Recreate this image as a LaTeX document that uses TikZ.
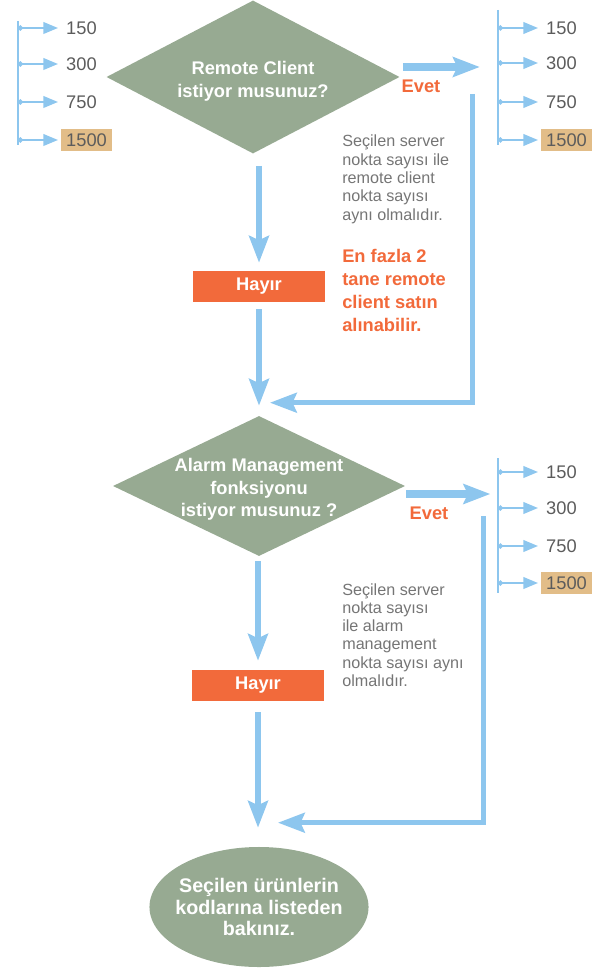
\documentclass[tikz,border=0pt]{standalone}
\usepackage{fontspec}
\setmainfont{Liberation Sans}
\usetikzlibrary{shapes.geometric,arrows.meta,positioning}
\definecolor{sage}{HTML}{97AA92}
\definecolor{sky}{HTML}{8DC6EE}
\definecolor{flame}{HTML}{F26A3B}
\definecolor{sand}{HTML}{E2BD88}
\definecolor{ink}{HTML}{5C5C5C}
\begin{document}
\begin{tikzpicture}[x=0.025cm,y=-0.025cm]
    \tikzset{
        decision/.style={diamond,shape aspect=2,fill=sage,text=white,inner sep=-12pt,align=center,
            font=\bfseries\fontsize{13}{16.4}\selectfont},
        nobox/.style={fill=flame,text=white,minimum width=3.3cm,minimum height=0.775cm,
            font=\bfseries\fontsize{13}{15}\selectfont},
        finish/.style={ellipse,fill=sage,text=white,inner sep=-6pt,align=center,
            minimum width=5.475cm,minimum height=3.0cm,font=\bfseries\fontsize{14}{15}\selectfont},
        qty/.style={anchor=west,text=ink,inner xsep=3.5pt,inner ysep=0pt,minimum height=15pt,
            font=\fontsize{13}{15}\selectfont},
        flow/.style={sky,line width=4.5pt,-{Stealth[length=19pt,width=14pt,inset=3pt]}},
        back/.style={sky,line width=3.5pt,-{Stealth[length=19pt,width=14pt,inset=3pt]}},
        tick/.style={sky,line width=2pt,{Circle[length=3.5pt]}-{Triangle[length=10.5pt,width=8pt]},shorten >=2pt},
        rail/.style={sky,line width=2pt},
        note/.style={anchor=north west,align=left,inner sep=0pt,text=ink!85,font=\fontsize{11.5}{13}\selectfont},
        yes/.style={text=flame,font=\bfseries\fontsize{13}{15}\selectfont}
    }
    \useasboundingbox (0,0) rectangle (606,970);

    \node[decision,minimum width=7.325cm,minimum height=3.825cm,text height=31.5pt] (remote) at (253,77) {Remote Client\\istiyor musunuz?};
    \node[nobox] (noA) at (259,286.5) {Hayır};
    \node[decision,minimum width=7.3cm,minimum height=3.5cm,text height=46.5pt,font=\bfseries\fontsize{13}{16}\selectfont] (alarm) at (259,486) {Alarm Management\\fonksiyonu\\istiyor musunuz ?};
    \node[nobox] (noB) at (258,685.5) {Hayır};
    \node[finish] (done) at (259,907) {Seçilen ürünlerin\\kodlarına listeden\\bakınız.};

    \node[yes] (yesA) at (421,86) {Evet};
    \node[yes] (yesB) at (429,513) {Evet};

    \node[note] (noteA) at (342,135) {Seçilen server\\nokta sayısı ile\\remote client\\nokta sayısı\\aynı olmalıdır.};
    \node[note,text=flame,font=\bfseries\fontsize{13}{16.4}\selectfont] (warnA) at (342,249) {En fazla 2\\tane remote\\client satın\\alınabilir.};
    \node[note] (noteB) at (342,583) {Seçilen server\\nokta sayısı\\ile alarm\\management\\nokta sayısı aynı\\olmalıdır.};

    % main flow
    \draw[flow] ([shift={(6,12)}]remote.south) -- ([shift={(0,-8)}]noA.north);
    \draw[flow] ([shift={(0,7)}]noA.south) -- ([shift={(0,-10)}]alarm.north);
    \draw[flow] ([shift={(-1,5)}]alarm.south) -- ([shift={(0,-9)}]noB.north);
    \draw[flow] ([shift={(0,11)}]noB.south) -- ([shift={(-1,-19)}]done.north);

    % evet branches
    \draw[flow,line width=5pt] ([shift={(3,-10)}]remote.east) -- ++(77,0);
    \draw[flow,line width=5pt] ([shift={(1,8)}]alarm.east) -- ++(84,0);
    \draw[back] ([shift={(73,17)}]remote.east) |- ([shift={(11,-13)}]alarm.north);
    \draw[back] ([shift={(78,30)}]alarm.east) |- ([shift={(19,-24)}]done.north);

    % point counts
    \draw[rail] (18,21) -- (18,145);
    \draw[rail] (498,10) -- (498,145);
    \draw[rail] (498,458) -- (498,593);
    \foreach \val/\yy/\bg [count=\i] in {150/28/white,300/64/white,750/102/white,1500/140/sand} {
        \node[qty,fill=\bg] (qa\i) at (61,\yy) {\val};
        \coordinate (ta\i) at (18,\yy);
        \draw[tick] (ta\i) -- (qa\i);
    }
    \foreach \val/\yy/\bg [count=\i] in {150/28/white,300/63/white,750/102/white,1500/140/sand} {
        \node[qty,fill=\bg] (qb\i) at (541,\yy) {\val};
        \coordinate (tb\i) at (498,\yy);
        \draw[tick] (tb\i) -- (qb\i);
    }
    \foreach \val/\yy/\bg [count=\i] in {150/472/white,300/508/white,750/546/white,1500/583/sand} {
        \node[qty,fill=\bg] (qc\i) at (541,\yy) {\val};
        \coordinate (tc\i) at (498,\yy);
        \draw[tick] (tc\i) -- (qc\i);
    }
\end{tikzpicture}
\end{document}
